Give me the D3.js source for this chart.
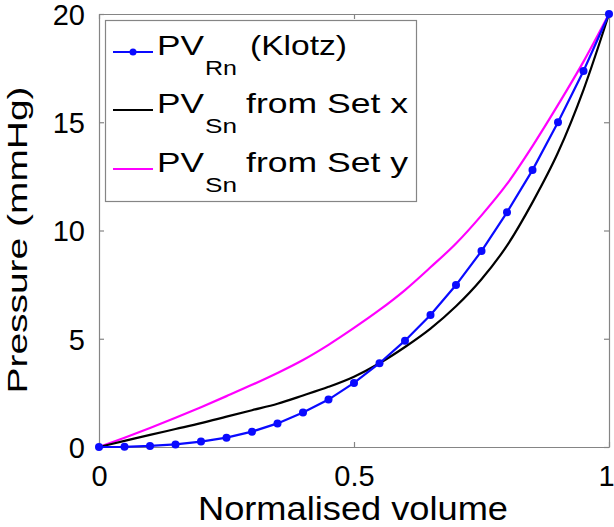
<!DOCTYPE html>
<html>
<head>
<meta charset="utf-8">
<script src="https://cdn.jsdelivr.net/npm/d3@7"></script>
<style>
  html, body { margin: 0; padding: 0; background: #fff; }
  svg { display: block; font-family: "Liberation Sans", Arial, sans-serif; }
</style>
</head>
<body>
<svg id="chart" width="614" height="527"></svg>
<script>
// ---- data ----
const volume = [0, 0.05, 0.1, 0.15, 0.2, 0.25, 0.3, 0.35, 0.4, 0.45, 0.5,
                0.55, 0.6, 0.65, 0.7, 0.75, 0.8, 0.85, 0.9, 0.95, 1];
const pvRnKlotz = [0, 0.01, 0.05, 0.12, 0.25, 0.43, 0.71, 1.09, 1.59, 2.19, 2.96,
                   3.87, 4.91, 6.10, 7.48, 9.05, 10.84, 12.79, 15.0, 17.37, 20];
const pvSnSetX = [0, 0.28, 0.56, 0.83, 1.1, 1.4, 1.7, 2.0, 2.38, 2.78, 3.25,
                  3.87, 4.62, 5.47, 6.5, 7.75, 9.3, 11.3, 13.6, 16.5, 20];
const pvSnSetY = [0, 0.43, 0.88, 1.35, 1.84, 2.35, 2.87, 3.42, 4.02, 4.72, 5.5,
                  6.33, 7.25, 8.3, 9.4, 10.7, 12.15, 13.9, 15.8, 17.8, 20];
const xTickValues = [0, 0.5, 1];
const yTickValues = [0, 5, 10, 15, 20];
const xLabel = "Normalised volume";
const yLabel = "Pressure (mmHg)";
const legendItems = [
  { main: "PV", sub: "Rn", rest: "(Klotz)", color: "#0a0aff", marker: true },
  { main: "PV", sub: "Sn", rest: "from Set x", color: "#000000", marker: false },
  { main: "PV", sub: "Sn", rest: "from Set y", color: "#ff00ff", marker: false }
];

// ---- layout ----
const svg = d3.select("#chart");
const L = 99, R = 609, T = 14, B = 447;
const x = d3.scaleLinear().domain([0, 1]).range([L, R]);
const y = d3.scaleLinear().domain([0, 20]).range([B, T]);
const axisColor = "#858585";

function styleAxis(g) {
  g.select(".domain").attr("stroke", axisColor).attr("stroke-width", 1.2);
  g.selectAll(".tick line").attr("stroke", axisColor).attr("stroke-width", 1.2);
  g.selectAll(".tick text").attr("fill", "#000").attr("font-size", 29)
    .attr("font-family", "Liberation Sans, Arial, sans-serif");
}
svg.append("g").attr("transform", `translate(0,${B})`)
  .call(d3.axisBottom(x).tickValues(xTickValues).tickSizeInner(-5).tickSizeOuter(0)
    .tickFormat(d3.format("")))
  .call(styleAxis)
  .call(g => g.selectAll(".tick text").attr("dy", 0).attr("y", 39)
    .attr("x", d => d === 1 ? -3 : 0));
svg.append("g").attr("transform", `translate(0,${T})`)
  .call(d3.axisTop(x).tickValues(xTickValues).tickSizeInner(-5).tickSizeOuter(0).tickFormat(""))
  .call(styleAxis);
svg.append("g").attr("transform", `translate(${L},0)`)
  .call(d3.axisLeft(y).tickValues(yTickValues).tickSizeInner(-5).tickSizeOuter(0)
    .tickFormat(d3.format("")))
  .call(styleAxis)
  .call(g => g.selectAll(".tick text").attr("x", -14).attr("dy", "0.36em"));
svg.append("g").attr("transform", `translate(${R},0)`)
  .call(d3.axisRight(y).tickValues(yTickValues).tickSizeInner(-5).tickSizeOuter(0).tickFormat(""))
  .call(styleAxis);

// axis labels
svg.append("text").attr("x", 353).attr("y", 520).attr("text-anchor", "middle")
  .attr("font-size", 33).attr("textLength", 310).attr("lengthAdjust", "spacingAndGlyphs")
  .text(xLabel);
svg.append("text").attr("transform", "translate(26.5,240) rotate(-90)")
  .attr("text-anchor", "middle").attr("font-size", 28.5)
  .attr("textLength", 307).attr("lengthAdjust", "spacingAndGlyphs")
  .text(yLabel);

// curves
const pts = vals => volume.map((v, i) => [v, vals[i]]);
const line = d3.line().x(d => x(d[0])).y(d => y(d[1])).curve(d3.curveMonotoneX);
const klotzLine = d3.line().x(d => x(d[0])).y(d => y(d[1]));
const plot = svg.append("g");
plot.append("path").datum(pts(pvSnSetY)).attr("d", line)
  .attr("fill", "none").attr("stroke", "#ff00ff").attr("stroke-width", 2.2);
plot.append("path").datum(pts(pvSnSetX)).attr("d", line)
  .attr("fill", "none").attr("stroke", "#000").attr("stroke-width", 2.2);
plot.append("path").datum(pts(pvRnKlotz)).attr("d", klotzLine)
  .attr("fill", "none").attr("stroke", "#0a0aff").attr("stroke-width", 2.2);
plot.selectAll("circle.k").data(pts(pvRnKlotz)).join("circle").attr("class", "k")
  .attr("cx", d => x(d[0])).attr("cy", d => y(d[1])).attr("r", 4)
  .attr("fill", "#0a0aff");

// legend
const lg = svg.append("g");
lg.append("rect").attr("x", 105.5).attr("y", 20.5).attr("width", 311).attr("height", 181)
  .attr("fill", "#fff").attr("stroke", axisColor).attr("stroke-width", 1.2);
const rowY = [55, 113, 172];
const restLen = [97, 162, 162];
legendItems.forEach((it, i) => {
  const by = rowY[i];
  const ly = by - 3;
  lg.append("line").attr("x1", 113).attr("x2", 153).attr("y1", ly).attr("y2", ly)
    .attr("stroke", it.color).attr("stroke-width", 2.2);
  if (it.marker) {
    lg.append("circle").attr("cx", 133).attr("cy", ly).attr("r", 3.5).attr("fill", it.color);
  }
  lg.append("text").attr("x", 157).attr("y", by).attr("font-size", 28)
    .attr("textLength", 47).attr("lengthAdjust", "spacingAndGlyphs").text(it.main);
  lg.append("text").attr("x", 205).attr("y", by + 20).attr("font-size", 20)
    .attr("textLength", 32).attr("lengthAdjust", "spacingAndGlyphs").text(it.sub);
  lg.append("text").attr("x", i === 0 ? 250 : 246).attr("y", by).attr("font-size", 28)
    .attr("textLength", restLen[i]).attr("lengthAdjust", "spacingAndGlyphs").text(it.rest);
});
</script>
</body>
</html>
